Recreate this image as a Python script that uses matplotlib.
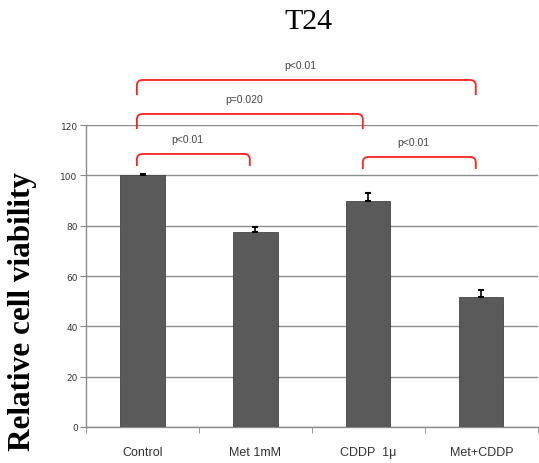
import matplotlib
matplotlib.use("Agg")
import matplotlib.pyplot as plt
from matplotlib.path import Path
from matplotlib.patches import PathPatch

groups = ["Control", "Met 1mM", "CDDP  1\u03bc", "Met+CDDP"]
viability = [100, 77.5, 90, 51.5]
err_up = [0.5, 2.0, 3.0, 3.0]

# (left group, right group, bar height, leg bottom, label)
brackets = [
    (0, 1, 108.5, 103.7, "p<0.01"),
    (0, 2, 124.4, 118.4, "p=0.020"),
    (0, 3, 137.9, 131.9, "p<0.01"),
    (2, 3, 107.3, 102.5, "p<0.01"),
]

fig = plt.figure(figsize=(5.39, 4.64), dpi=100)
ax = fig.add_axes([0.1596, 0.0776, 0.8384, 0.6508])

x = list(range(len(groups)))
ax.bar(x, viability, width=0.39, color="#5a5a5a", edgecolor="#444444", linewidth=0.6, zorder=3)
ax.errorbar(x, viability, yerr=[[0] * len(x), err_up], fmt="none", ecolor="black",
            elinewidth=1.2, capsize=2.5, capthick=1.5, zorder=4)

ax.set_xlim(-0.5, 3.5)
ax.set_ylim(0, 120)
ax.set_yticks(range(0, 121, 20))
ax.yaxis.grid(True, color="#8c8c8c", linewidth=1.0, zorder=0)
ax.set_xticks(x)
ax.set_xticklabels(groups, fontsize=9, color="#333333", family="Liberation Sans")
ax.set_xticks([-0.5, 0.5, 1.5, 2.5, 3.5], minor=True)
ax.tick_params(axis="x", which="major", length=0, pad=14)
ax.tick_params(axis="x", which="minor", length=4, color="#888888")
ax.tick_params(axis="y", length=4, color="#888888", labelsize=6.5, labelcolor="#333333", pad=2)
for s in ["top", "right"]:
    ax.spines[s].set_visible(False)
for s in ["left", "bottom"]:
    ax.spines[s].set_color("#8c8c8c")
    ax.spines[s].set_linewidth(1.0)

ax.set_ylabel("Relative cell viability", family="Liberation Serif", fontweight="bold",
              fontsize=22.5)
ax.yaxis.set_label_coords(-0.108, 0.387)

off = 0.05
for a, b, top, bot, label in brackets:
    x0, x1 = a - off, b - off
    r = 0.05
    verts = [(x0, bot), (x0, top - 2.2), (x0, top), (x0 + r, top),
             (x1 - r, top), (x1, top), (x1, top - 2.2), (x1, bot)]
    codes = [Path.MOVETO, Path.LINETO, Path.CURVE3, Path.CURVE3,
             Path.LINETO, Path.CURVE3, Path.CURVE3, Path.LINETO]
    ax.add_patch(PathPatch(Path(verts, codes), facecolor="none", edgecolor="#ff2020",
                           linewidth=1.3, clip_on=False, zorder=5))
    ax.text((x0 + x1) / 2 - 0.05, top + 5.8, label, ha="center", va="center", fontsize=7.5,
            color="#444444", family="Liberation Sans", clip_on=False)

fig.text(0.572, 0.953, "T24", ha="center", va="center", fontsize=21.5, family="Liberation Serif")

plt.savefig("out.png", dpi=100)
plt.close(fig)
